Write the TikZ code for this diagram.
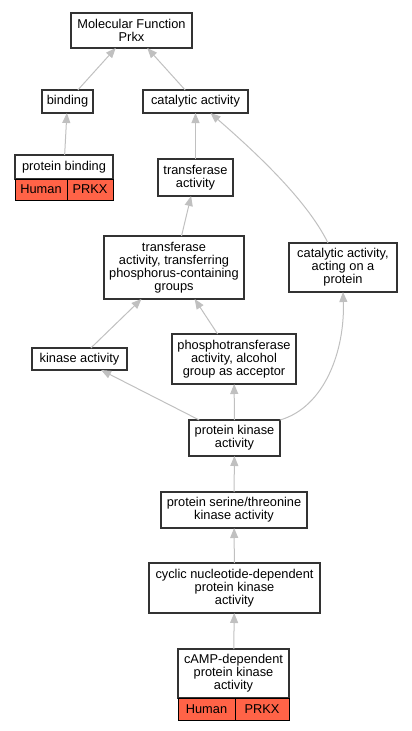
\documentclass[tikz,border=0pt]{standalone}
\usepackage{fontspec}
\setmainfont{Liberation Sans}
\usetikzlibrary{positioning, arrows.meta}
\definecolor{genered}{RGB}{255,99,71}
\definecolor{edgegray}{RGB}{192,192,192}
\definecolor{boxline}{RGB}{51,51,51}

\begin{document}
\begin{tikzpicture}[x=1pt, y=-1pt, >={Triangle[length=10pt, width=8pt]},
	term/.style={draw=boxline, line width=1.2pt, fill=white, rectangle, align=center, inner sep=0pt, outer sep=0pt, font=\fontsize{12.8}{13}\selectfont},
	gene/.style={draw=black, line width=1pt, fill=genered, rectangle, inner sep=0pt, outer sep=0pt, font=\fontsize{12.8}{13}\selectfont},
	edge/.style={->, draw=edgegray, line width=1pt}]
		\useasboundingbox (0, 0) rectangle (412, 731);
		% terms
		\node[term, minimum width=121pt, minimum height=35pt] (mf) at (131.5, 30.5) {Molecular Function\\Prkx};
		\node[term, minimum width=51pt, minimum height=23pt] (binding) at (67.5, 101.5) {binding};
		\node[term, minimum width=105pt, minimum height=23pt] (catalytic) at (195.5, 101.5) {catalytic activity};
		\node[term, minimum width=98pt, minimum height=24pt] (pbind) at (64, 167) {protein binding};
		\node[gene, minimum width=52pt, minimum height=21pt, anchor=north west] (pbindsp) at (pbind.south west) {Human};
		\node[gene, minimum width=46pt, minimum height=21pt, anchor=north west] (pbindgn) at (pbindsp.north east) {PRKX};
		\node[term, minimum width=75pt, minimum height=37pt] (transferase) at (195.5, 177.5) {transferase\\activity};
		\node[term, minimum width=140pt, minimum height=63pt] (transferring) at (174, 267.5) {transferase\\activity, transferring\\phosphorus-containing\\groups};
		\node[term, minimum width=108pt, minimum height=49pt] (acting) at (343, 267.5) {catalytic activity,\\acting on a\\protein};
		\node[term, minimum width=95pt, minimum height=22pt] (kinase) at (79.5, 359) {kinase activity};
		\node[term, minimum width=124pt, minimum height=50pt] (phospho) at (234, 359) {phosphotransferase\\activity, alcohol\\group as acceptor};
		\node[term, minimum width=91pt, minimum height=36pt] (pk) at (234.5, 438) {protein kinase\\activity};
		\node[term, minimum width=146pt, minimum height=36pt] (serine) at (234, 510) {protein serine/threonine\\kinase activity};
		\node[term, minimum width=171pt, minimum height=50pt] (cyclic) at (234.5, 588) {cyclic nucleotide-dependent\\protein kinase\\activity};
		\node[term, minimum width=111pt, minimum height=49pt] (camp) at (233.5, 673.5) {cAMP-dependent\\protein kinase\\activity};
		\node[gene, minimum width=57pt, minimum height=22pt, anchor=north west] (campsp) at (camp.south west) {Human};
		\node[gene, minimum width=54pt, minimum height=22pt, anchor=north west] (campgn) at (campsp.north east) {PRKX};
		% is_a edges
		\draw[edge] (binding) -- (mf);
		\draw[edge] (catalytic) -- (mf);
		\draw[edge] (pbind) -- (binding);
		\draw[edge] (transferase) -- (catalytic);
		\draw[edge] (transferring) -- (transferase);
		\draw[edge] ([xshift=-15pt]acting.north) .. controls +(-22, -45) and +(40, 35) .. ([xshift=15pt]catalytic.south);
		\draw[edge] (kinase) -- (transferring);
		\draw[edge] (phospho) -- (transferring);
		\draw[edge] (pk) -- (kinase);
		\draw[edge] (pk) -- (phospho);
		\draw[edge] (pk.north east) .. controls +(45, -13) and +(2, 58) .. (acting.south);
		\draw[edge] (serine) -- (pk);
		\draw[edge] (cyclic) -- (serine);
		\draw[edge] (camp) -- (cyclic);
	\end{tikzpicture}
\end{document}
